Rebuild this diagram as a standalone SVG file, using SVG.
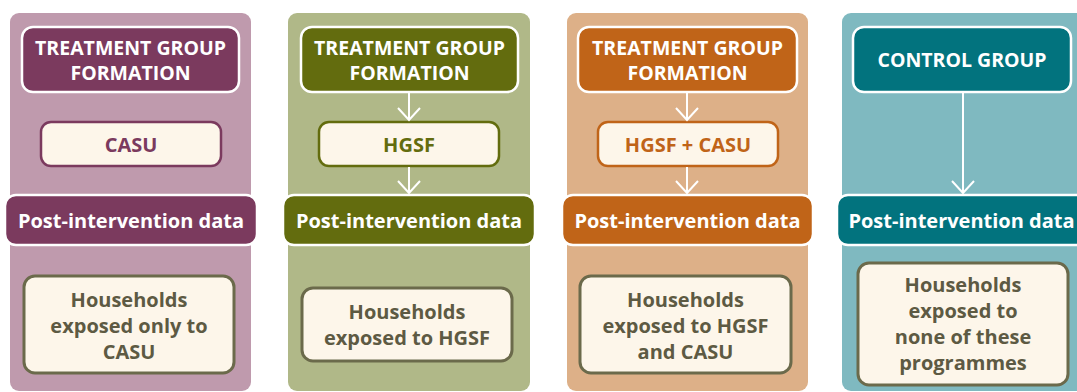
<svg xmlns="http://www.w3.org/2000/svg" width="1077" height="392" viewBox="0 0 1077 392">
<defs>
<style>
.t{font-family:"Open Sans","Noto Sans","Liberation Sans",sans-serif;font-weight:700;text-anchor:middle}
.hd{font-size:19.5px;fill:#ffffff}
.pd{font-size:20px;fill:#ffffff}
.pg{font-size:20px}
.hh{font-size:20px;fill:#5d5a43}
.hdr{stroke:#ffffff;stroke-width:2.5}
.prog{fill:#fdf6ea;stroke-width:2.5}
.hbox{fill:#fdf6ea;stroke:#6b6a4b;stroke-width:3}
.conn{stroke:#ffffff;stroke-width:2;fill:none}
</style>
<marker id="ah" viewBox="0 0 24 24" refX="22" refY="12" markerWidth="24" markerHeight="24" markerUnits="userSpaceOnUse" orient="auto">
<path d="M10,1 L22,12 L10,23" fill="none" stroke="#ffffff" stroke-width="2"/>
</marker>
</defs>
<rect width="1077" height="392" fill="#ffffff"/>
<g id="col1">
<rect x="10" y="13" width="241" height="378" rx="9" fill="#bf9aad"/>
<g id="c1-header"><rect class="hdr" x="22" y="27" width="217" height="65" rx="11" fill="#7b3a5e"/>
<text class="t hd" x="130.5" y="55">TREATMENT GROUP</text><text class="t hd" x="130.5" y="80">FORMATION</text></g>
<g id="c1-prog"><rect class="prog" x="41" y="122" width="180" height="44" rx="10" stroke="#7b3a5e"/>
<text class="t pg" x="131" y="152" fill="#7b3a5e">CASU</text></g>
<g id="c1-post"><rect class="hdr" x="5" y="195" width="252" height="50" rx="11" fill="#7b3a5e"/>
<text class="t pd" x="131" y="228">Post-intervention data</text></g>
<g id="c1-hh"><rect class="hbox" x="24" y="276" width="210" height="97" rx="11"/>
<text class="t hh" x="129" y="307">Households</text><text class="t hh" x="129" y="333">exposed only to</text><text class="t hh" x="129" y="359">CASU</text></g>
</g>
<g id="col2">
<rect x="288" y="13" width="242" height="378" rx="9" fill="#b0b888"/>
<g id="c2-header"><rect class="hdr" x="301" y="27" width="217" height="65" rx="11" fill="#636c0e"/>
<text class="t hd" x="409.5" y="55">TREATMENT GROUP</text><text class="t hd" x="409.5" y="80">FORMATION</text></g>
<g id="c2-prog"><rect class="prog" x="319" y="122" width="180" height="44" rx="10" stroke="#636c0e"/>
<text class="t pg" x="409" y="152" fill="#636c0e">HGSF</text></g>
<g id="c2-post"><rect class="hdr" x="283" y="195" width="252" height="50" rx="11" fill="#636c0e"/>
<text class="t pd" x="409" y="228">Post-intervention data</text></g>
<g id="c2-hh"><rect class="hbox" x="302" y="288" width="210" height="73" rx="11"/>
<text class="t hh" x="407" y="319">Households</text><text class="t hh" x="407" y="345">exposed to HGSF</text></g>
</g>
<g id="col3">
<rect x="567" y="13" width="241" height="378" rx="9" fill="#ddb088"/>
<g id="c3-header"><rect class="hdr" x="578" y="27" width="219" height="65" rx="11" fill="#c06418"/>
<text class="t hd" x="687.5" y="55">TREATMENT GROUP</text><text class="t hd" x="687.5" y="80">FORMATION</text></g>
<g id="c3-prog"><rect class="prog" x="598" y="122" width="180" height="44" rx="10" stroke="#c06418"/>
<text class="t pg" x="688" y="152" fill="#c06418">HGSF + CASU</text></g>
<g id="c3-post"><rect class="hdr" x="562" y="195" width="251" height="50" rx="11" fill="#c06418"/>
<text class="t pd" x="687.5" y="228">Post-intervention data</text></g>
<g id="c3-hh"><rect class="hbox" x="580" y="276" width="211" height="97" rx="11"/>
<text class="t hh" x="685.5" y="307">Households</text><text class="t hh" x="685.5" y="333">exposed to HGSF</text><text class="t hh" x="685.5" y="359">and CASU</text></g>
</g>
<g id="col4">
<rect x="842" y="13" width="245" height="378" rx="9" fill="#7fb9c0"/>
<g id="c4-header"><rect class="hdr" x="853" y="27" width="218" height="65" rx="11" fill="#02737e"/>
<text class="t hd" x="962" y="67">CONTROL GROUP</text></g>
<g id="c4-post"><rect class="hdr" x="837" y="195" width="252" height="50" rx="11" fill="#02737e"/>
<text class="t pd" x="961.5" y="228">Post-intervention data</text></g>
<g id="c4-hh"><rect class="hbox" x="858" y="263" width="210" height="122" rx="11"/>
<text class="t hh" x="963" y="292">Households</text><text class="t hh" x="963" y="318">exposed to</text><text class="t hh" x="963" y="344">none of these</text><text class="t hh" x="963" y="370">programmes</text></g>
</g>
<g id="connectors">
<line class="conn" x1="409" y1="93" x2="409" y2="120" marker-end="url(#ah)"/>
<line class="conn" x1="409" y1="167" x2="409" y2="193" marker-end="url(#ah)"/>
<line class="conn" x1="687" y1="93" x2="687" y2="120" marker-end="url(#ah)"/>
<line class="conn" x1="687" y1="167" x2="687" y2="193" marker-end="url(#ah)"/>
<line class="conn" x1="963" y1="93" x2="963" y2="193" marker-end="url(#ah)"/>
</g>
</svg>
